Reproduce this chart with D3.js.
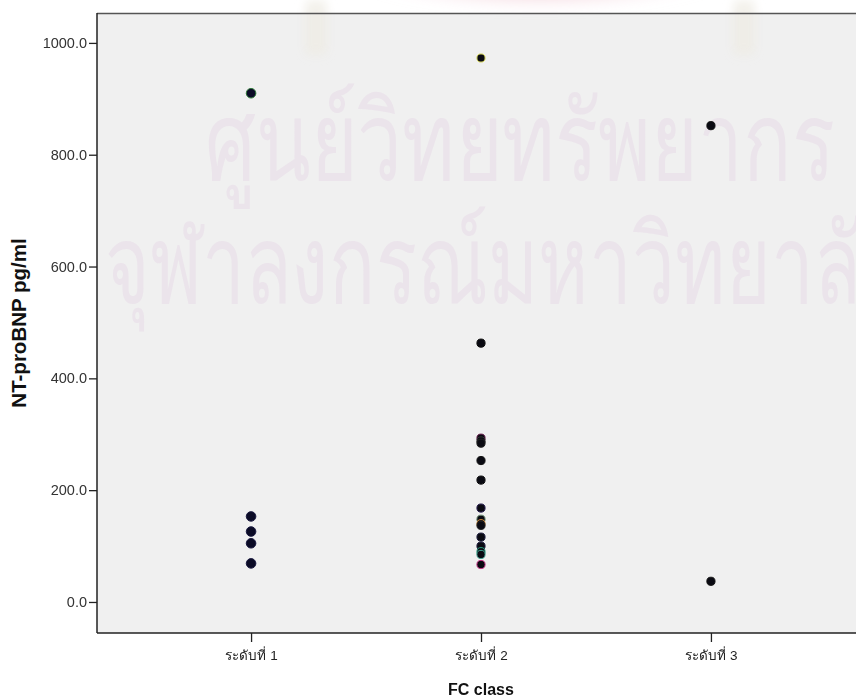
<!DOCTYPE html>
<html>
<head>
<meta charset="utf-8">
<script src="https://cdn.jsdelivr.net/npm/d3@7"></script>
<style>
  html, body { margin: 0; padding: 0; background: #ffffff; }
  svg { display: block; }
  text { font-family: "Liberation Sans", Arial, "Noto Sans", sans-serif; }
</style>
</head>
<body>
<svg id="chart" width="856" height="700"></svg>
<script>
// FC class groups and NT-proBNP readings (pg/ml)
const categories = ["ระดับที่ 1", "ระดับที่ 2", "ระดับที่ 3"];
const class1Values = [910, 153, 126, 105, 69];
const class2Values = [973, 463, 293, 288, 284, 253, 218, 168, 148, 140, 137, 116, 100, 90, 85, 67];
const class3Values = [852, 37];
const yTicks = [0, 200, 400, 600, 800, 1000];

// per-case marker rings (SPSS colours markers by case)
const class1Rings = ["#2f7a3a", "#1a1a40", "#1a1a40", "#1a1a40", "#1a1a40"];
const class2Rings = ["#d8d860", "#111111", "#6a2050", "#333333", "#222222", "#111111", "#111111", "#2a2050", "#6a8a70", "#d89040", "#222222", "#202040", "#202040", "#2aa080", "#40a090", "#c03080"];
const class3Rings = ["#111111", "#111111"];

const points = [];
[[class1Values, class1Rings], [class2Values, class2Rings], [class3Values, class3Rings]].forEach(([vals, rings], i) => {
  vals.forEach((v, j) => points.push({ cat: categories[i], value: v, ring: rings[j], group: i }));
});

const svg = d3.select("#chart");
const W = 856, H = 700;
const plot = { left: 97, top: 13, right: 865, bottom: 633 };

const x = d3.scalePoint().domain(categories).range([plot.left, plot.right]).padding(0.67);
const y = d3.scaleLinear().domain([-55.5, 1053.5]).range([plot.bottom, plot.top]);

// page background
svg.append("rect").attr("width", W).attr("height", H).attr("fill", "#ffffff");

// faded crest at the top of the page
const defs = svg.append("defs");
defs.append("filter").attr("id", "soft").attr("x", "-20%").attr("y", "-50%").attr("width", "140%").attr("height", "200%")
  .append("feGaussianBlur").attr("stdDeviation", 5);
const crestGrad = defs.append("radialGradient").attr("id", "crest")
  .attr("cx", "50%").attr("cy", "15%").attr("r", "60%");
crestGrad.append("stop").attr("offset", "0%").attr("stop-color", "#c0102a").attr("stop-opacity", 0.95);
crestGrad.append("stop").attr("offset", "45%").attr("stop-color", "#e07890").attr("stop-opacity", 0.6);
crestGrad.append("stop").attr("offset", "100%").attr("stop-color", "#f6e4ea").attr("stop-opacity", 0);

// plot area
svg.append("rect")
  .attr("x", plot.left).attr("y", plot.top)
  .attr("width", plot.right - plot.left).attr("height", plot.bottom - plot.top)
  .attr("fill", "#f0f0f0");

const crest = svg.append("g").attr("filter", "url(#soft)");
crest.append("ellipse").attr("cx", 540).attr("cy", -10).attr("rx", 180).attr("ry", 46)
  .attr("fill", "url(#crest)").attr("opacity", 0.9);
crest.append("rect").attr("x", 305).attr("y", 0).attr("width", 22).attr("height", 55)
  .attr("rx", 6).attr("fill", "#eeebe3").attr("opacity", 0.7);
crest.append("rect").attr("x", 733).attr("y", 0).attr("width", 22).attr("height", 55)
  .attr("rx", 6).attr("fill", "#eeebe3").attr("opacity", 0.7);

// watermark lettering
const wm = svg.append("g").attr("fill", "#ebe4eb");
wm.append("text").attr("x", 205).attr("y", 180)
  .attr("font-size", 110).attr("textLength", 630).attr("lengthAdjust", "spacingAndGlyphs")
  .text("ศูนย์วิทยทรัพยากร");
wm.append("text").attr("x", 105).attr("y", 303)
  .attr("font-size", 110).attr("textLength", 800).attr("lengthAdjust", "spacingAndGlyphs")
  .text("จุฬาลงกรณ์มหาวิทยาลัย");

// frame
svg.append("line").attr("x1", plot.left).attr("x2", W).attr("y1", plot.top + 0.5).attr("y2", plot.top + 0.5)
  .attr("stroke", "#555").attr("stroke-width", 1.5);

// y axis
const yAxis = svg.append("g").attr("transform", `translate(${plot.left},0)`)
  .call(d3.axisLeft(y).tickValues(yTicks).tickFormat(d3.format(".1f")).tickSize(8).tickPadding(2));
yAxis.select(".domain").attr("d", `M0,${plot.top}V${plot.bottom}`).attr("stroke", "#222").attr("stroke-width", 1.5);
yAxis.selectAll(".tick line").attr("stroke", "#222").attr("stroke-width", 1.3);
yAxis.selectAll(".tick text").attr("font-size", 14.5).attr("fill", "#333")
  .attr("font-family", "'Liberation Sans', Arial, sans-serif");

// x axis
const xAxis = svg.append("g").attr("transform", `translate(0,${plot.bottom})`)
  .call(d3.axisBottom(x).tickSize(9).tickPadding(8));
xAxis.select(".domain").attr("d", `M${plot.left},0H${plot.right}`).attr("stroke", "#222").attr("stroke-width", 1.5);
xAxis.selectAll(".tick line").attr("stroke", "#222").attr("stroke-width", 1.3);
xAxis.selectAll(".tick text").attr("font-size", 13.5).attr("fill", "#222")
  .attr("font-family", "'Liberation Sans', Arial, sans-serif");

// axis titles
svg.append("text")
  .attr("transform", `translate(26,${(plot.top + plot.bottom) / 2}) rotate(-90)`)
  .attr("text-anchor", "middle").attr("font-size", 20.5).attr("font-weight", "bold").attr("fill", "#111")
  .text("NT-proBNP pg/ml");
svg.append("text")
  .attr("x", x(categories[1])).attr("y", 695)
  .attr("text-anchor", "middle").attr("font-size", 16).attr("font-weight", "bold").attr("fill", "#111")
  .text("FC class");

// points
svg.append("g").selectAll("circle").data(points).join("circle")
  .attr("cx", d => x(d.cat))
  .attr("cy", d => y(d.value))
  .attr("r", d => d.group === 0 ? 4.8 : 4.1)
  .attr("fill", d => d.group === 0 ? "#0b0b26" : "#0a0a12")
  .attr("stroke", d => d.ring)
  .attr("stroke-width", 1);
</script>
</body>
</html>
